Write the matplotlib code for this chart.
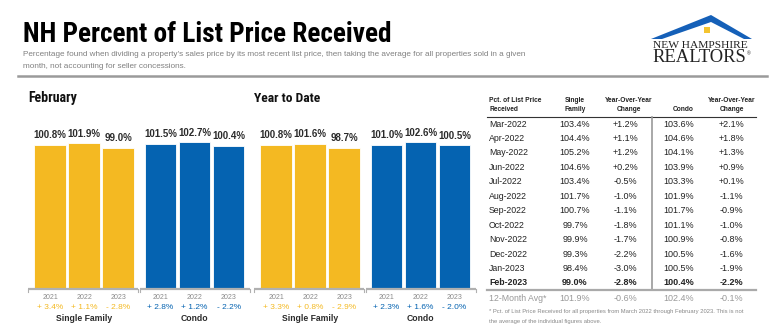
import matplotlib
matplotlib.use("Agg")
import matplotlib.pyplot as plt
from matplotlib.patches import Polygon, Rectangle

W, H = 771, 333

years = ["2021", "2022", "2023"]
groups = ["Single Family", "Condo"]

feb_sf = [100.8, 101.9, 99.0]
feb_condo = [101.5, 102.7, 100.4]
feb_sf_chg = ["+ 3.4%", "+ 1.1%", "- 2.8%"]
feb_condo_chg = ["+ 2.8%", "+ 1.2%", "- 2.2%"]

ytd_sf = [100.8, 101.6, 98.7]
ytd_condo = [101.0, 102.6, 100.5]
ytd_sf_chg = ["+ 3.3%", "+ 0.8%", "- 2.9%"]
ytd_condo_chg = ["+ 2.3%", "+ 1.6%", "- 2.0%"]

months = ["Mar-2022", "Apr-2022", "May-2022", "Jun-2022", "Jul-2022", "Aug-2022",
          "Sep-2022", "Oct-2022", "Nov-2022", "Dec-2022", "Jan-2023", "Feb-2023"]
tbl_sf = ["103.4%", "104.4%", "105.2%", "104.6%", "103.4%", "101.7%",
          "100.7%", "99.7%", "99.9%", "99.3%", "98.4%", "99.0%"]
tbl_sf_chg = ["+1.2%", "+1.1%", "+1.2%", "+0.2%", "-0.5%", "-1.0%",
              "-1.1%", "-1.8%", "-1.7%", "-2.2%", "-3.0%", "-2.8%"]
tbl_condo = ["103.6%", "104.6%", "104.1%", "103.9%", "103.3%", "101.9%",
             "101.7%", "101.1%", "100.9%", "100.5%", "100.5%", "100.4%"]
tbl_condo_chg = ["+2.1%", "+1.8%", "+1.3%", "+0.9%", "+0.1%", "-1.1%",
                 "-0.9%", "-1.0%", "-0.8%", "-1.6%", "-1.9%", "-2.2%"]
avg_row = ["12-Month Avg*", "101.9%", "-0.6%", "102.4%", "-0.1%"]

YELLOW = "#F4B922"
BLUE = "#0563B1"
DARK = "#222222"

COND = ["Roboto Condensed", "Archivo Narrow", "Liberation Sans", "DejaVu Sans"]
plt.rcParams["font.family"] = ["Liberation Sans", "DejaVu Sans"]

fig = plt.figure(figsize=(W / 100, H / 100), dpi=100)
fig.patch.set_facecolor("white")
renderer = fig.canvas.get_renderer()


def px(x, y):
    return x / W, 1 - y / H


def text(x, y, s, **kw):
    kw.setdefault("va", "center")
    kw.setdefault("color", DARK)
    return fig.text(*px(x, y), s, **kw)


def fit(t, width):
    # scale the font so the text spans the given pixel width
    bb = t.get_window_extent(renderer)
    t.set_fontsize(t.get_fontsize() * width / bb.width)


def hline(x0, x1, y, **kw):
    fig.add_artist(plt.Line2D([x0 / W, x1 / W], [1 - y / H, 1 - y / H],
                              transform=fig.transFigure, **kw))


def vline(x, y0, y1, **kw):
    fig.add_artist(plt.Line2D([x / W, x / W], [1 - y0 / H, 1 - y1 / H],
                              transform=fig.transFigure, **kw))


# header
t = text(23, 42, "NH Percent of List Price Received", fontsize=20, fontweight="bold",
         family=COND, color="#000000", va="baseline")
fit(t, 367)
t = text(23, 55, "Percentage found when dividing a property's sales price by its most recent list price, "
         "then taking the average for all properties sold in a given", fontsize=5.6, color="#808080")
fit(t, 507)
text(23, 66, "month, not accounting for seller concessions.", fontsize=t.get_fontsize(), color="#808080")
hline(18, 767, 76, color="#9a9a9a", lw=1.8)

# logo
roof = [px(651, 39), px(711, 15), px(752, 39), px(744, 39), px(711, 22), px(662, 39)]
fig.add_artist(Polygon(roof, closed=True, transform=fig.transFigure, color="#1560B8", lw=0))
x0, y0 = px(704, 33)
fig.add_artist(Rectangle((x0, y0), 6 / W, 6 / H, transform=fig.transFigure, color="#F4C430", lw=0))
t = text(700, 46, "NEW HAMPSHIRE", fontsize=7.2, family="Liberation Serif", ha="center", color="#222")
fit(t, 95)
t = text(699, 58, "REALTORS", fontsize=13.5, family="Liberation Serif", ha="center", color="#222")
fit(t, 94)
text(749, 54, "®", fontsize=3.5, ha="center", color="#222")


def panel(left_px, title, title_w, sf, condo, sf_chg, condo_chg):
    base_y = 289
    top_y = 120
    scale = 1.4286  # pixels per percentage point
    ax = fig.add_axes([left_px / W, 1 - base_y / H, 222 / W, (base_y - top_y) / H])
    ax.set_xlim(-0.65, 5.88)
    ax.set_ylim(0, (base_y - top_y) / scale)
    ax.axis("off")
    pos_sf = [0, 1, 2]
    pos_condo = [3.25, 4.25, 5.25]
    ax.bar(pos_sf, sf, width=0.93, color=YELLOW, edgecolor="white", lw=0.6)
    ax.bar(pos_condo, condo, width=0.93, color=BLUE, edgecolor="white", lw=0.6)
    for p, v in zip(pos_sf + pos_condo, sf + condo):
        ax.annotate(f"{v:.1f}%", (p, v), xytext=(0, 7), textcoords="offset points",
                    ha="center", va="center", fontsize=7, fontweight="bold", color="#2b2b2b")
    for p, y, c in zip(pos_sf + pos_condo, years + years, sf_chg + condo_chg):
        col = YELLOW if p < 3 else BLUE
        ax.annotate(y, (p, 0), xytext=(0, -6), textcoords="offset points",
                    ha="center", va="center", fontsize=5, color="#8a8a8a")
        ax.annotate(c, (p, 0), xytext=(0, -13.5), textcoords="offset points",
                    ha="center", va="center", fontsize=6, color=col)
    for g, c in zip(groups, [1, 4.25]):
        ax.annotate(g, (c, 0), xytext=(0, -21.5), textcoords="offset points",
                    ha="center", va="center", fontsize=6.2, fontweight="bold", color="#2b2b2b")
    # baseline with end ticks per group
    for a, b in [(-0.65, 2.6), (2.65, 5.88)]:
        ax.plot([a, b], [-0.3, -0.3], color="#b0b0b0", lw=1.6, clip_on=False, solid_capstyle="butt")
        ax.plot([a, a], [-0.3, -2.3], color="#b0b0b0", lw=0.8, clip_on=False)
        ax.plot([b, b], [-0.3, -2.3], color="#b0b0b0", lw=0.8, clip_on=False)
    t = text(left_px, 98, title, fontsize=10, fontweight="bold", family=COND, color="#111")
    fit(t, title_w)


panel(28, "February", 49, feb_sf, feb_condo, feb_sf_chg, feb_condo_chg)
panel(254, "Year to Date", 66, ytd_sf, ytd_condo, ytd_sf_chg, ytd_condo_chg)

# table
cols = [575, 625, 679, 731]
hdr = dict(fontsize=4.8, fontweight="bold")
text(489, 100, "Pct. of List Price", **hdr)
text(489, 109, "Received", **hdr)
text(575, 100, "Single", ha="center", **hdr)
text(575, 109, "Family", ha="center", **hdr)
text(629, 100, "Year-Over-Year", ha="center", **hdr)
text(629, 109, "Change", ha="center", **hdr)
text(683, 109, "Condo", ha="center", **hdr)
text(732, 100, "Year-Over-Year", ha="center", **hdr)
text(732, 109, "Change", ha="center", **hdr)
hline(487, 756, 117, color="#333", lw=0.8)
vline(652, 117, 289, color="#999", lw=1.2)

row0, step = 124, 14.45
for i, m in enumerate(months):
    y = row0 + i * step
    bold = "bold" if i == len(months) - 1 else "normal"
    text(489, y, m, fontsize=6.3, fontweight=bold)
    for x, v in zip(cols, [tbl_sf[i], tbl_sf_chg[i], tbl_condo[i], tbl_condo_chg[i]]):
        text(x, y, v, fontsize=6.5, fontweight=bold, ha="center")

hline(487, 756, 290, color="#aaa", lw=1.6)
y_avg = row0 + len(months) * step + 1
text(489, y_avg, avg_row[0], fontsize=6.3, color="#999")
for x, v in zip(cols, avg_row[1:]):
    text(x, y_avg, v, fontsize=6.5, color="#999", ha="center")

text(489, 312, "* Pct. of List Price Received for all properties from March 2022 through February 2023. "
     "This is not", fontsize=4.2, color="#888")
text(489, 321, "the average of the individual figures above.", fontsize=4.2, color="#888")

fig.savefig("out.png", dpi=100, facecolor="white")
